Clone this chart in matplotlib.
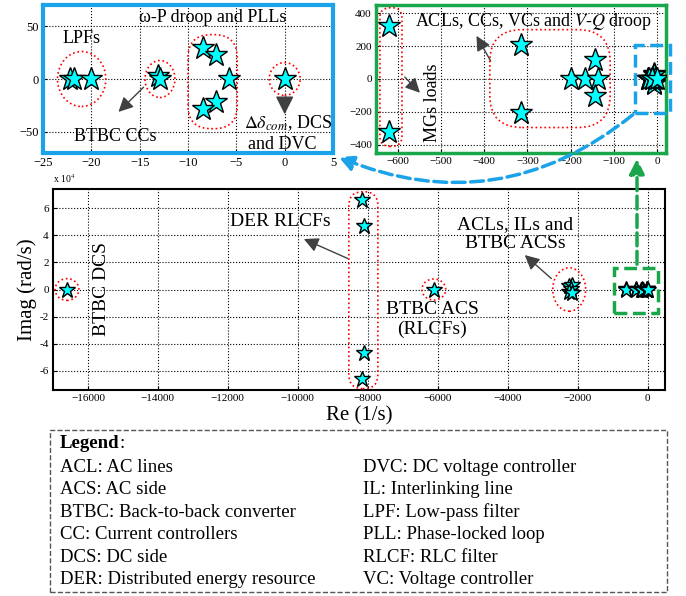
import matplotlib
matplotlib.use('Agg')
import matplotlib.pyplot as plt
import matplotlib.patches as patches

plt.rcParams['font.family'] = ['Liberation Serif', 'DejaVu Serif']
plt.rcParams['mathtext.fontset'] = 'stix'

W, H = 686, 596

# eigenvalue groups (real part 1/s, imag part rad/s)
btbc_dcs_re = [-16600]
btbc_dcs_im = [0]
der_rlcf_re = [-8150, -8100, -8100, -8150]
der_rlcf_im = [66000, 46500, -46500, -66000]
btbc_acs_re = [-6100]
btbc_acs_im = [0]
acl_il_re = [-2250, -2150, -2200, -2250, -2150]
acl_il_im = [2800, 3200, 500, -1800, -2600]
mg_load_re = [-620, -620]
mg_load_im = [320, -320]
acl_cc_re = [-315, -315, -200, -168, -138, -145, -145]
acl_cc_im = [205, -205, 0, 0, 0, 115, -105]
droop_re = [-8.4, -7.1, -5.8, -7.1, -8.4]
droop_im = [29, 23, 0, -22, -28]
lpf_re = [-22.2, -21.8, -20.0]
lpf_im = [0, 0, 0]
cc_re = [-13.1, -12.9]
cc_im = [3, 0]
dcs_re = [0]
dcs_im = [0]

all_re = (btbc_dcs_re + der_rlcf_re + btbc_acs_re + acl_il_re + mg_load_re
          + acl_cc_re + droop_re + lpf_re + cc_re + dcs_re)
all_im = (btbc_dcs_im + der_rlcf_im + btbc_acs_im + acl_il_im + mg_load_im
          + acl_cc_im + droop_im + lpf_im + cc_im + dcs_im)

legend_left = ['ACL: AC lines', 'ACS: AC side', 'BTBC: Back-to-back converter',
               'CC: Current controllers', 'DCS: DC side', 'DER: Distributed energy resource']
legend_right = ['DVC: DC voltage controller', 'IL: Interlinking line', 'LPF: Low-pass filter',
                'PLL: Phase-locked loop', 'RLCF: RLC filter', 'VC: Voltage controller']

fig = plt.figure(figsize=(W / 100, H / 100), dpi=100)


def px_axes(l, t, r, b):
    return fig.add_axes([l / W, 1 - b / H, (r - l) / W, (b - t) / H])


def fx(x):
    return x / W


def fy(y):
    return 1 - y / H


def style_grid(ax):
    ax.grid(True, color='black', linestyle=':', linewidth=0.8)
    ax.set_axisbelow(True)
    ax.tick_params(direction='in', length=3, pad=3)


def dotted_ellipse(ax, cx, cy, w, h):
    ax.add_patch(patches.Ellipse((cx, cy), w, h, fill=False, edgecolor='red',
                                 linestyle=':', linewidth=1.2, zorder=4))


def dotted_pill(ax, x0, y0, x1, y1, r, aspect):
    ax.add_patch(patches.FancyBboxPatch((x0, y0), x1 - x0, y1 - y0,
                                        boxstyle='round,pad=0,rounding_size=%g' % r,
                                        mutation_aspect=aspect, fill=False, edgecolor='red',
                                        linestyle=':', linewidth=1.2, zorder=4))


arrow_kw = dict(arrowstyle='-|>', color='#404040', lw=1.0, mutation_scale=22)
star_kw = dict(marker='*', linestyle='none', markerfacecolor='cyan',
               markeredgecolor='black', zorder=5)

# ---------------- main plot ----------------
ax = px_axes(53, 189, 665, 390)
ax.plot(all_re, all_im, markersize=12, markeredgewidth=1.0, **star_kw)
ax.set_xlim(-17000, 500)
ax.set_ylim(-74000, 74000)
ax.set_xticks(range(-16000, 1, 2000))
ax.set_xticklabels([str(v).replace('-', '\u2212') for v in range(-16000, 1, 2000)], fontsize=8)
ax.set_yticks(range(-60000, 60001, 20000))
ax.set_yticklabels([str(v // 10000) for v in range(-60000, 60001, 20000)], fontsize=8)
style_grid(ax)
for s in ax.spines.values():
    s.set_linewidth(1.5)
ax.text(0.0, 1.02, r'x 10$^4$', transform=ax.transAxes, fontsize=7, ha='left', va='bottom')
ax.set_xlabel('Re (1/s)', fontsize=15, labelpad=2)
ax.set_ylabel('Imag (rad/s)', fontsize=15, labelpad=2)

dotted_ellipse(ax, -16600, 0, 680, 16000)
dotted_pill(ax, -8540, -73000, -7710, 72000, 400, 26)
dotted_ellipse(ax, -6110, 0, 680, 15500)
dotted_ellipse(ax, -2240, 0, 940, 32000)
ax.add_patch(patches.Rectangle((-970, -17000), 1260, 33000, fill=False, edgecolor='#1aa64a',
                               linestyle='--', linewidth=2.5, zorder=4))

ax.text(-15600, 0, 'BTBC DCS', rotation=90, ha='center', va='center', fontsize=14)
ax.text(-10500, 50000, 'DER RLCFs', ha='center', va='center', fontsize=14)
ax.annotate('', xy=(-9900, 38000), xytext=(-8500, 22000), arrowprops=arrow_kw)
ax.text(-6150, -22000, 'BTBC ACS\n(RLCFs)', ha='center', va='center', fontsize=14,
        linespacing=1.15)
ax.text(-3780, 41000, 'ACLs, ILs and\nBTBC ACSs', ha='center', va='center', fontsize=14,
        linespacing=1.15)
ax.annotate('', xy=(-3570, 26700), xytext=(-2690, 6700), arrowprops=arrow_kw)

# ---------------- zoom 1 (slow modes) ----------------
ax1 = px_axes(43, 5, 333, 153)
ax1.plot(all_re, all_im, markersize=17, markeredgewidth=1.0, **star_kw)
ax1.set_xlim(-25, 5)
ax1.set_ylim(-70, 70)
ax1.set_xticks(range(-25, 6, 5))
ax1.set_yticks([-50, 0, 50])
ax1.tick_params(labelsize=9)
style_grid(ax1)
for s in ax1.spines.values():
    s.set_color('#1aa3e8')
    s.set_linewidth(3)

dotted_ellipse(ax1, -21, 0, 5.0, 52)
dotted_ellipse(ax1, -12.9, 0, 3.1, 35)
dotted_pill(ax1, -10.0, -47, -4.9, 42, 2.4, 9.2)
dotted_ellipse(ax1, 0, 0, 3.2, 31)

ax1.text(-7.4, 58, '\u03c9-P droop and PLLs', ha='center', va='center', fontsize=13)
ax1.text(-21, 38, 'LPFs', ha='center', va='center', fontsize=13)
ax1.text(-17.5, -54, 'BTBC CCs', ha='center', va='center', fontsize=13)
ax1.annotate('', xy=(-17.4, -33), xytext=(-14.4, -6), arrowprops=arrow_kw)
ax1.text(0.4, -42, r'$\Delta\delta_{com}$, DCS', ha='center', va='center', fontsize=13)
ax1.text(-0.2, -62, 'and DVC', ha='center', va='center', fontsize=13)
ax1.annotate('', xy=(0, -36), xytext=(0, -16),
             arrowprops=dict(arrowstyle='-|>', color='#404040', lw=1.0, mutation_scale=28))

# ---------------- zoom 2 (medium modes) ----------------
ax2 = px_axes(376, 5, 666, 153)
ax2.plot(all_re, all_im, markersize=17, markeredgewidth=1.0, **star_kw)
ax2.set_xlim(-650, 20)
ax2.set_ylim(-450, 450)
ax2.set_xticks(range(-600, 1, 100))
ax2.set_yticks(range(-400, 401, 200))
ax2.tick_params(labelsize=8)
style_grid(ax2)
for s in ax2.spines.values():
    s.set_color('#1aa64a')
    s.set_linewidth(2.5)

dotted_pill(ax2, -641, -410, -590, 433, 23, 2.6)
dotted_pill(ax2, -387, -295, -109, 300, 75, 2.6)
ax2.add_patch(patches.Rectangle((-51, -205), 80, 410, fill=False, edgecolor='#1aa3e8',
                                linestyle='--', linewidth=2.5, zorder=4, clip_on=False))

ax2.text(-287, 350, r'ACLs, CCs, VCs and $V$-$Q$ droop', ha='center', va='center', fontsize=13)
ax2.text(-519, -145, 'MGs loads', rotation=90, ha='center', va='center', fontsize=13)
ax2.annotate('', xy=(-421, 277), xytext=(-382, 95), arrowprops=arrow_kw)
ax2.annotate('', xy=(-544, -96), xytext=(-588, 24), arrowprops=arrow_kw)

# ---------------- connectors ----------------
fig.patches.append(patches.FancyArrowPatch(
    (fx(635), fy(113)), (fx(336), fy(156)), transform=fig.transFigure,
    connectionstyle='arc3,rad=-0.3', arrowstyle='-|>', mutation_scale=22,
    color='#1aa3e8', linestyle='--', linewidth=2.5))
fig.patches.append(patches.FancyArrowPatch(
    (fx(637), fy(267)), (fx(637), fy(156)), transform=fig.transFigure,
    arrowstyle='-|>', mutation_scale=22, color='#1aa64a', linestyle='--', linewidth=2.5))

# ---------------- legend box ----------------
fig.patches.append(patches.Rectangle((fx(50), fy(592)), (667 - 50) / W, (592 - 430) / H,
                                     transform=fig.transFigure, fill=False, edgecolor='#555555',
                                     linestyle='--', linewidth=1.0))
t = fig.text(fx(60), fy(444), 'Legend', fontsize=13.5, fontweight='bold', va='center')
renderer = fig.canvas.get_renderer()
bb = t.get_window_extent(renderer)
fig.text(bb.x1 / W, fy(444), ':', fontsize=13.5, va='center')
for i, (a, b) in enumerate(zip(legend_left, legend_right)):
    y = 467 + i * 22.6
    fig.text(fx(60), fy(y), a, fontsize=13.5, va='center')
    fig.text(fx(363), fy(y), b, fontsize=13.5, va='center')

fig.savefig('out.png', dpi=100)
